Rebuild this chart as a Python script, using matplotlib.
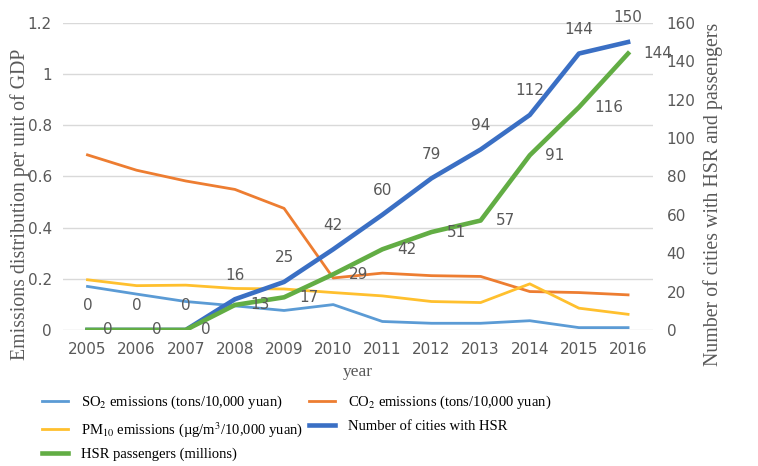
import matplotlib.pyplot as plt
from matplotlib.ticker import MultipleLocator

plt.rcParams["mathtext.fontset"] = "stix"

years = [2005, 2006, 2007, 2008, 2009, 2010, 2011, 2012, 2013, 2014, 2015, 2016]
so2 = [0.170, 0.140, 0.111, 0.094, 0.076, 0.099, 0.033, 0.026, 0.026, 0.036, 0.009, 0.009]
co2 = [0.684, 0.624, 0.582, 0.549, 0.475, 0.203, 0.222, 0.212, 0.209, 0.150, 0.146, 0.137]
pm10 = [0.196, 0.173, 0.175, 0.162, 0.160, 0.146, 0.133, 0.111, 0.107, 0.180, 0.085, 0.061]
hsr_cities = [0, 0, 0, 16, 25, 42, 60, 79, 94, 112, 144, 150]
hsr_passengers = [0, 0, 0, 13, 17, 29, 42, 51, 57, 91, 116, 144]

GRAY = "#595959"
TICK_FONT = "DejaVu Sans"
SERIF = "Liberation Serif"

x = list(range(len(years)))

fig = plt.figure(figsize=(7.58, 4.66), dpi=100)
ax = fig.add_axes([0.083, 0.292, 0.778, 0.659])
ax2 = ax.twinx()

l_so2, = ax.plot(x, so2, color="#5B9BD5", lw=2.0, label="SO$_2$ emissions (tons/10,000 yuan)")
l_co2, = ax.plot(x, co2, color="#ED7D31", lw=2.0, label="CO$_2$ emissions (tons/10,000 yuan)")
l_pm, = ax.plot(x, pm10, color="#FFC02E", lw=2.0,
                label="PM$_{10}$ emissions (\u00b5g/m$^3$/10,000 yuan)")
l_cit, = ax2.plot(x, hsr_cities, color="#3A6FC4", lw=3.3, label="Number of cities with HSR")
l_pas, = ax2.plot(x, hsr_passengers, color="#62AD44", lw=3.3, label="HSR passengers (millions)")

ax.set_xlim(-0.5, len(years) - 0.5)
ax.set_ylim(0, 1.2)
ax2.set_ylim(0, 160)
ax2.yaxis.set_major_locator(MultipleLocator(20))
ax.set_yticks([0, 0.2, 0.4, 0.6, 0.8, 1.0, 1.2])
ax.set_yticklabels(["0", "0.2", "0.4", "0.6", "0.8", "1", "1.2"])
ax.set_xticks(x)
ax.set_xticklabels([str(y) for y in years])

ax.grid(axis="y", color="#D9D9D9", lw=1)
ax.set_axisbelow(True)
for a in (ax, ax2):
    for s in a.spines.values():
        s.set_visible(False)
    a.tick_params(length=0, labelsize=11, labelcolor=GRAY)
    for lab in a.get_xticklabels() + a.get_yticklabels():
        lab.set_family(TICK_FONT)
ax.tick_params(axis="y", pad=8)
ax.tick_params(axis="x", pad=9)
ax2.tick_params(axis="y", pad=10)

ax.set_xlabel("year", family=SERIF, fontsize=12.5, color=GRAY)
ax.xaxis.set_label_coords(0.5, -0.11)
ax.set_ylabel("Emissions distribution per unit of GDP", family=SERIF, fontsize=14.3, color=GRAY)
ax.yaxis.set_label_coords(-0.056, 0.41)
ax2.set_ylabel("Number of cities with HSR and passengers", family=SERIF, fontsize=14.3, color=GRAY,
               rotation=90)
ax2.yaxis.set_label_coords(1.085, 0.44)

# data labels
for xi, v in zip(x, hsr_cities):
    ax2.annotate(str(v), (xi, v), xytext=(0, 12), textcoords="offset points",
                 ha="center", va="bottom", fontsize=11, color=GRAY, family=TICK_FONT)
for xi, v in zip(x, hsr_passengers):
    ax2.annotate(str(v), (xi, v), xytext=(11, 0), textcoords="offset points",
                 ha="left", va="center", fontsize=11, color=GRAY, family=TICK_FONT)

handles = [l_so2, l_pm, l_pas, l_co2, l_cit]
fig.legend(handles, [h.get_label() for h in handles], ncol=2, loc="upper left",
           bbox_to_anchor=(0.055, 0.155), frameon=False,
           prop={"family": SERIF, "size": 10.5}, handlelength=1.8, handletextpad=0.9,
           columnspacing=0.4, labelspacing=0.6, borderaxespad=0, borderpad=0)

fig.savefig("out.png", dpi=100)
